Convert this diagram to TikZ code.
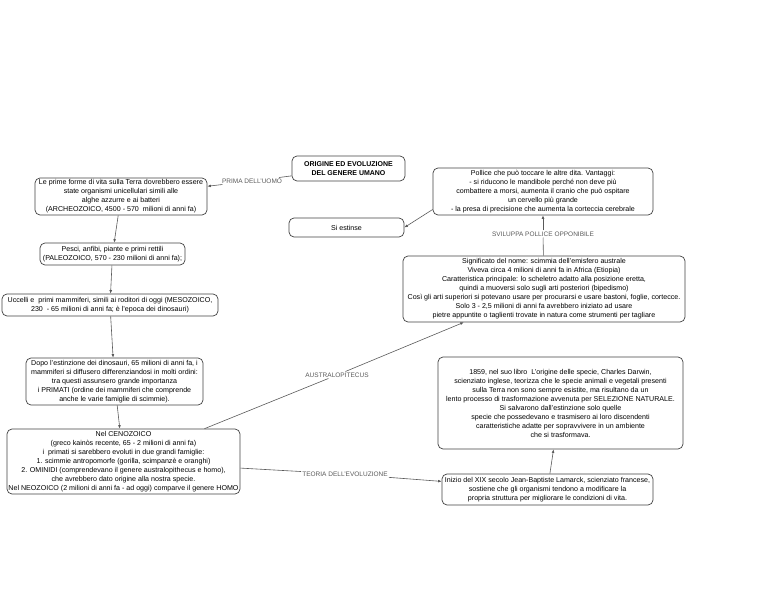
\documentclass[tikz,border=0pt]{standalone}
\usepackage{fontspec}
\setmainfont{Liberation Sans}
\usetikzlibrary{arrows.meta}
\begin{document}
\begin{tikzpicture}[x=1pt,y=-1pt,
  box/.style={draw=black!75,line width=0.7pt,rounded corners=5pt,align=center,inner sep=1pt,font=\fontsize{7.1}{9}\selectfont},
  lbl/.style={text=black!65,inner sep=1pt,font=\fontsize{6.5}{7.5}\selectfont},
  conn/.style={draw=black!65,line width=0.6pt},
  arr/.style={conn,-{Latex[length=3.5pt,width=2.8pt]}}]
 \useasboundingbox (0,0) rectangle (768,593);
 % title
 \node[box,minimum width=113pt,minimum height=25pt,font=\fontsize{7}{9}\selectfont\bfseries] (origine) at (348.5,168.5) {ORIGINE ED EVOLUZIONE\\DEL GENERE UMANO};
 % left column: geological eras
 \node[box,minimum width=172pt,minimum height=37pt] (archeo) at (121,196.5) {Le prime forme di vita sulla Terra dovrebbero essere\\state organismi unicellulari simili alle\\alghe azzurre e ai batteri\\(ARCHEOZOICO, 4500 - 570\ \ milioni di anni fa)};
 \node[box,minimum width=145pt,minimum height=22pt] (paleo) at (112.5,254) {Pesci, anfibi, piante e primi rettili\\(PALEOZOICO, 570 - 230 milioni di anni fa);};
 \node[box,minimum width=216pt,minimum height=22pt] (meso) at (110,305) {Uccelli e\ \ primi mammiferi, simili ai roditori di oggi (MESOZOICO,\\230\ \ - 65 milioni di anni fa; è l'epoca dei dinosauri)};
 \node[box,minimum width=177pt,minimum height=47pt] (primati) at (114.5,381.5) {Dopo l'estinzione dei dinosauri, 65 milioni di anni fa, i\\mammiferi si diffusero differenziandosi in molti ordini:\\tra questi assunsero grande importanza\\i PRIMATI (ordine dei mammiferi che comprende\\anche le varie famiglie di scimmie).};
 \node[box,minimum width=233pt,minimum height=65pt] (ceno) at (123.5,461.5) {Nel CENOZOICO\\(greco kainòs recente, 65 - 2 milioni di anni fa)\\i\ \ primati si sarebbero evoluti in due grandi famiglie:\\1. scimmie antropomorfe (gorilla, scimpanzè e oranghi)\\2. OMINIDI (comprendevano il genere australopithecus e homo),\\che avrebbero dato origine alla nostra specie.\\Nel NEOZOICO (2 milioni di anni fa - ad oggi) comparve il genere HOMO};
 % right column
 \node[box,minimum width=220pt,minimum height=47pt] (pollice) at (543,191.5) {Pollice che può toccare le altre dita. Vantaggi:\\- si riducono le mandibole perché non deve più\\combattere a morsi, aumenta il cranio che può ospitare\\un cervello più grande\\- la presa di precisione che aumenta la corteccia cerebrale};
 \node[box,minimum width=115pt,minimum height=19pt] (estinse) at (346.5,227.5) {Si estinse};
 \node[box,minimum width=282pt,minimum height=66pt] (nome) at (544,289) {Significato del nome: scimmia dell'emisfero australe\\Viveva circa 4 milioni di anni fa in Africa (Etiopia)\\Caratteristica principale: lo scheletro adatto alla posizione eretta,\\quindi a muoversi solo sugli arti posteriori (bipedismo)\\Così gli arti superiori si potevano usare per procurarsi e usare bastoni, foglie, cortecce.\\Solo 3 - 2,5 milioni di anni fa avrebbero iniziato ad usare\\pietre appuntite o taglienti trovate in natura come strumenti per tagliare};
 \node[box,minimum width=245pt,minimum height=92pt] (darwin) at (560.5,403) {1859, nel suo libro\ \ L'origine delle specie, Charles Darwin,\\scienziato inglese, teorizza che le specie animali e vegetali presenti\\sulla Terra non sono sempre esistite, ma risultano da un\\lento processo di trasformazione avvenuta per SELEZIONE NATURALE.\\Si salvarono dall'estinzione solo quelle\\specie che possedevano e trasmisero ai loro discendenti\\caratteristiche adatte per sopravvivere in un ambiente\\che si trasformava.};
 \node[box,minimum width=211pt,minimum height=31pt] (lamarck) at (547.5,489.5) {Inizio del XIX secolo Jean-Baptiste Lamarck, scienziato francese,\\sostiene che gli organismi tendono a modificare la\\propria struttura per migliorare le condizioni di vita.};
 % link labels
 \node[lbl] (prima) at (252,181) {PRIMA DELL'UOMO};
 \node[lbl] (sviluppa) at (543,234) {SVILUPPA POLLICE OPPONIBILE};
 \node[lbl] (austr) at (337,375) {AUSTRALOPITECUS};
 \node[lbl] (teoria) at (345,474) {TEORIA DELL'EVOLUZIONE};
 % connectors
 \draw[conn] (origine) -- (prima);
 \draw[arr] (prima) -- (archeo);
 \draw[arr] (archeo) -- (paleo);
 \draw[arr] (paleo) -- (meso);
 \draw[arr] (meso) -- (primati);
 \draw[arr] (primati) -- (ceno);
 \draw[conn] (ceno) -- (austr);
 \draw[arr] (austr) -- (nome);
 \draw[conn] (nome) -- (sviluppa);
 \draw[arr] (sviluppa) -- (pollice);
 \draw[arr] ([yshift=-18pt]pollice.west) -- (estinse.east);
 \draw[conn] (ceno) -- (teoria);
 \draw[arr] (teoria) -- (lamarck);
 \draw[arr] (lamarck) -- (darwin);
\end{tikzpicture}
\end{document}
